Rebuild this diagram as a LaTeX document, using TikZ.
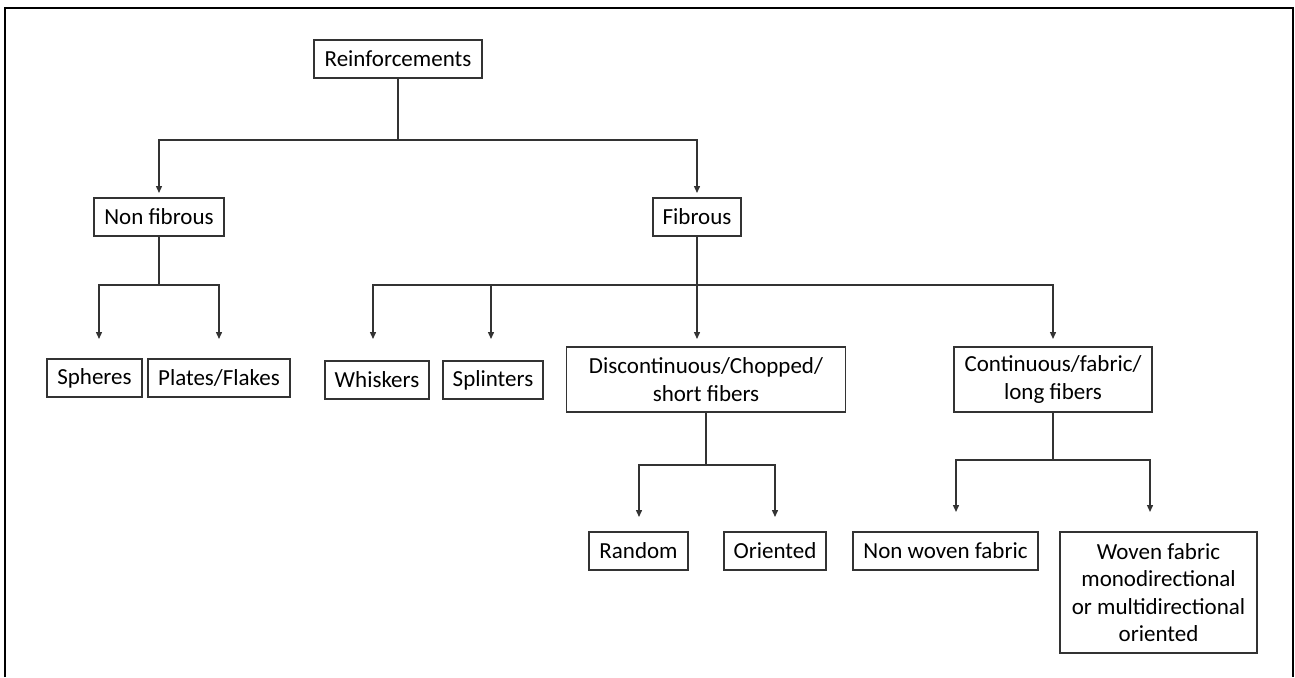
\documentclass[tikz,border=0pt]{standalone}
\usepackage{fontspec}
\setmainfont{Carlito}
\usetikzlibrary{arrows.meta}
\definecolor{ink}{HTML}{333333}
\tikzset{
  box/.style={draw=ink, line width=1.4pt, inner sep=0pt, align=center,
    font=\fontsize{23}{27.5}\selectfont, text=black},
  wire/.style={draw=ink, line width=1.4pt},
  arr/.style={wire, -{Triangle[length=7pt,width=6pt]}},
}
\begin{document}
\begin{tikzpicture}[x=1pt, y=-1pt]
\useasboundingbox (0,0) rectangle (1295,677);
% outer frame, open at the bottom
\draw[line width=2.6pt, black] (5,677) -- (5,8) -- (1293,8) -- (1293,677);

% boxes
\node[box, minimum width=168, minimum height=38] (reinf) at (398,59) {Reinforcements};
\node[box, minimum width=130, minimum height=38] (nonfib) at (159,217) {Non fibrous};
\node[box, minimum width=88, minimum height=38] (fib) at (697,217) {Fibrous};
\node[box, minimum width=95, minimum height=38] (spheres) at (94.5,378) {Spheres};
\node[box, minimum width=142, minimum height=38] (plates) at (219,378) {Plates/Flakes};
\node[box, minimum width=104, minimum height=38] (whiskers) at (377,380) {Whiskers};
\node[box, minimum width=100, minimum height=38] (splinters) at (493,380) {Splinters};
\node[box, minimum width=279, minimum height=65] (disc) at (706,379.5) {Discontinuous/Chopped/\\short fibers};
\node[box, minimum width=198, minimum height=65] (cont) at (1053,379.5) {Continuous/fabric/\\long fibers};
\node[box, minimum width=99, minimum height=38] (random) at (638.5,551) {Random};
\node[box, minimum width=102, minimum height=38] (oriented) at (775,551) {Oriented};
\node[box, minimum width=185, minimum height=38] (nonwoven) at (945.5,551) {Non woven fabric};
\node[box, minimum width=197, minimum height=121] (woven) at (1158.5,592.5) {Woven fabric\\monodirectional\\or multidirectional\\oriented};

% branch points
\coordinate (b0) at (398,140);
\coordinate (b1) at (159,285);
\coordinate (b2) at (697,285);
\coordinate (b3) at (706,465);
\coordinate (b4) at (1053,460);

% arrow tips
\coordinate (tNF) at (159,193);
\coordinate (tF) at (697,193);
\coordinate (tSph) at (99,339);
\coordinate (tPla) at (219,339);
\coordinate (tWhi) at (373,339);
\coordinate (tSpl) at (491,339);
\coordinate (tDis) at (697,339);
\coordinate (tCon) at (1053,339);
\coordinate (tRan) at (639,517);
\coordinate (tOri) at (775,517);
\coordinate (tNon) at (956,512);
\coordinate (tWov) at (1150,512);

% Reinforcements
\draw[wire] (reinf.south) -- (b0);
\draw[arr] (b0) -| (tNF);
\draw[arr] (b0) -| (tF);

% Non fibrous
\draw[wire] (nonfib.south) -- (b1);
\draw[arr] (b1) -| (tSph);
\draw[arr] (b1) -| (tPla);

% Fibrous
\draw[arr] (fib.south) -- (tDis);
\draw[arr] (b2) -| (tWhi);
\draw[arr] (b2) -| (tSpl);
\draw[arr] (b2) -| (tCon);

% Discontinuous fibers
\draw[wire] (disc.south) -- (b3);
\draw[arr] (b3) -| (tRan);
\draw[arr] (b3) -| (tOri);

% Continuous fibers
\draw[wire] (cont.south) -- (b4);
\draw[arr] (b4) -| (tNon);
\draw[arr] (b4) -| (tWov);
\end{tikzpicture}
\end{document}
